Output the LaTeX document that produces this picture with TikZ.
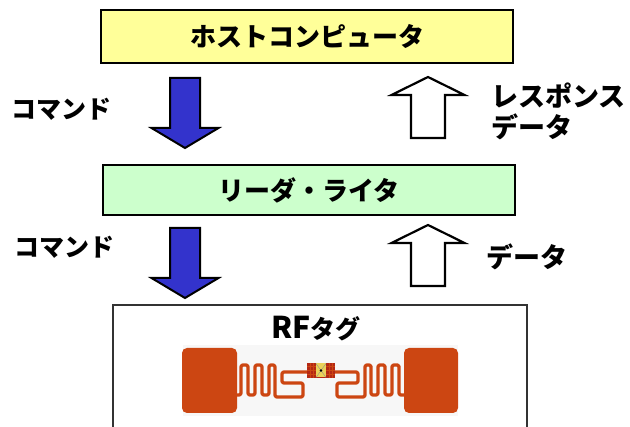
\documentclass[tikz,border=0pt]{standalone}
\usepackage{fontspec}
\setmainfont{Noto Sans CJK JP}
\definecolor{hostfill}{RGB}{255,255,153}
\definecolor{readerfill}{RGB}{204,255,204}
\definecolor{cmdblue}{RGB}{51,51,204}
\definecolor{tagred}{RGB}{204,70,18}
\definecolor{strapred}{RGB}{180,40,20}
\definecolor{chipyellow}{RGB}{235,210,90}
\begin{document}
\begin{tikzpicture}[x=1pt,y=-1pt,
  box/.style={draw=black, line width=1.5pt, inner sep=0pt},
  jp/.style={font=\bfseries\fontsize{25}{30}\selectfont, inner sep=0pt},
  boxtext/.style={font=\bfseries\fontsize{26}{30}\selectfont},
  downarrow/.pic={
    \draw[pic actions] (-15,0) -- (15,0) -- (15,50) -- (33.5,50) -- (0,70)
      -- (-33.5,50) -- (-15,50) -- cycle;},
  uparrow/.pic={
    \draw[pic actions] (0,0) -- (36.5,18) -- (17,18) -- (17,61) -- (-17,61)
      -- (-17,18) -- (-36.5,18) -- cycle;},
  cmdarrow/.style={fill=cmdblue, draw=black, line width=2pt, miter limit=10},
  resparrow/.style={fill=white, draw=black, line width=2.2pt, miter limit=10},
  trace/.style={draw=tagred, line width=3.2pt, rounded corners=1.5pt, line join=round}
]
\useasboundingbox (0,0) rectangle (630,427);

% host computer and reader/writer
\node[box, fill=hostfill, minimum width=412pt, minimum height=53pt, boxtext] (host)
  at (307,36.5) {ホストコンピュータ};
\node[box, fill=readerfill, minimum width=412pt, minimum height=50pt, boxtext] (reader)
  at (309,190) {リーダ・ライタ};

% RF tag enclosure (runs past the lower edge)
\node[draw=black!80, line width=1.8pt, fill=white, minimum width=414pt,
  minimum height=140pt, inner sep=0pt] (tag) at (320,375) {};
\node[jp] (tagtitle) at (316,329) {{\fontsize{30}{30}\selectfont RF}タグ};

% command / response arrows
\pic[cmdarrow] (cmdA) at (185,78) {downarrow};
\pic[cmdarrow] (cmdB) at (185,228) {downarrow};
\pic[resparrow] (respA) at (428,77) {uparrow};
\pic[resparrow] (respB) at (428,225) {uparrow};

% arrow labels
\node[jp, anchor=west] (cmdlabelA) at (11,109) {コマンド};
\node[jp, anchor=west] (cmdlabelB) at (14,247) {コマンド};
\node[jp, anchor=west, align=left, font=\bfseries\fontsize{27}{31}\selectfont]
  (resplabelA) at (491,111) {レスポンス\\データ};
\node[jp, anchor=west, font=\bfseries\fontsize{27}{31}\selectfont]
  (resplabelB) at (486,257) {データ};

% inlay substrate
\fill[black!3] (183,345) rectangle (458,416);
% antenna pads
\fill[tagred, rounded corners=5pt] (182,348) rectangle (237,413);
\fill[tagred, rounded corners=5pt] (404,348) rectangle (458,413);
% left meander and feed loop
\draw[trace] (234,395) -- (241,395) -- (241,365) -- (248,365) -- (248,395)
  -- (255,395) -- (255,365) -- (262,365) -- (262,395) -- (269,395)
  -- (269,365) -- (275,365) -- (275,397) -- (303,397) -- (303,383)
  -- (282,383) -- (282,372) -- (309,372);
% right meander and feed loop
\draw[trace] (407,395) -- (399,395) -- (399,365) -- (392,365) -- (392,395)
  -- (385,395) -- (385,365) -- (378,365) -- (378,395) -- (371,395)
  -- (371,365) -- (365,365) -- (365,397) -- (337,397) -- (337,383)
  -- (358,383) -- (358,372) -- (333,372);
% chip strap
\fill[strapred] (307,363) rectangle (335,378);
\foreach \gx in {310,313,329,332} \draw[tagred, line width=0.4pt] (\gx,363) -- (\gx,378);
\foreach \gy in {366.5,370.5,374.5} \draw[tagred, line width=0.4pt] (307,\gy) -- (335,\gy);
\fill[chipyellow] (316,363.5) rectangle (326,377.5);
\draw[black!45, line width=0.4pt] (316,363.5) -- (326,377.5) (326,363.5) -- (316,377.5);
\fill[black] (321,370.5) circle (1.3pt);
\end{tikzpicture}
\end{document}
